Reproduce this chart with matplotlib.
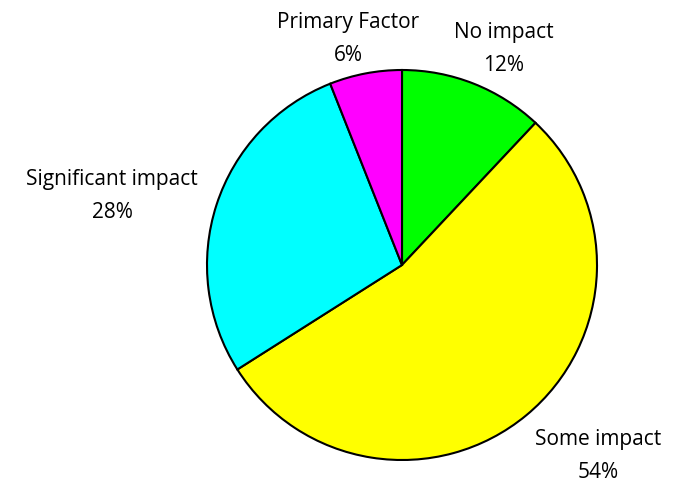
import matplotlib
matplotlib.use("Agg")
import matplotlib.pyplot as plt
import numpy as np

categories = ["No impact", "Some impact", "Significant impact", "Primary Factor"]
shares = [12, 54, 28, 6]
colors = ["#00ff00", "#ffff00", "#00ffff", "#ff00ff"]
# label centres in data units (pie radius = 1)
label_pos = [(0.523, 1.113), (1.005, -0.972), (-1.487, 0.359), (-0.277, 1.164)]

plt.rcParams['font.family'] = ['Open Sans', 'DejaVu Sans']

fig = plt.figure(figsize=(6.75, 4.85), dpi=100)
ax = fig.add_axes([(402 - 195) / 675, (219 - 195) / 485, 390 / 675, 390 / 485])

ax.pie(shares, colors=colors, startangle=90, counterclock=False,
       wedgeprops=dict(edgecolor="black", linewidth=1.5), radius=1)

for name, val, (x, y) in zip(categories, shares, label_pos):
    ax.text(x, y, "{}\n{}%".format(name, val), ha="center", va="center",
            fontsize=15, linespacing=1.75, clip_on=False)

ax.set_xlim(-1, 1)
ax.set_ylim(-1, 1)
ax.set_aspect("equal")
ax.axis("off")

fig.savefig("out.png", dpi=100)
